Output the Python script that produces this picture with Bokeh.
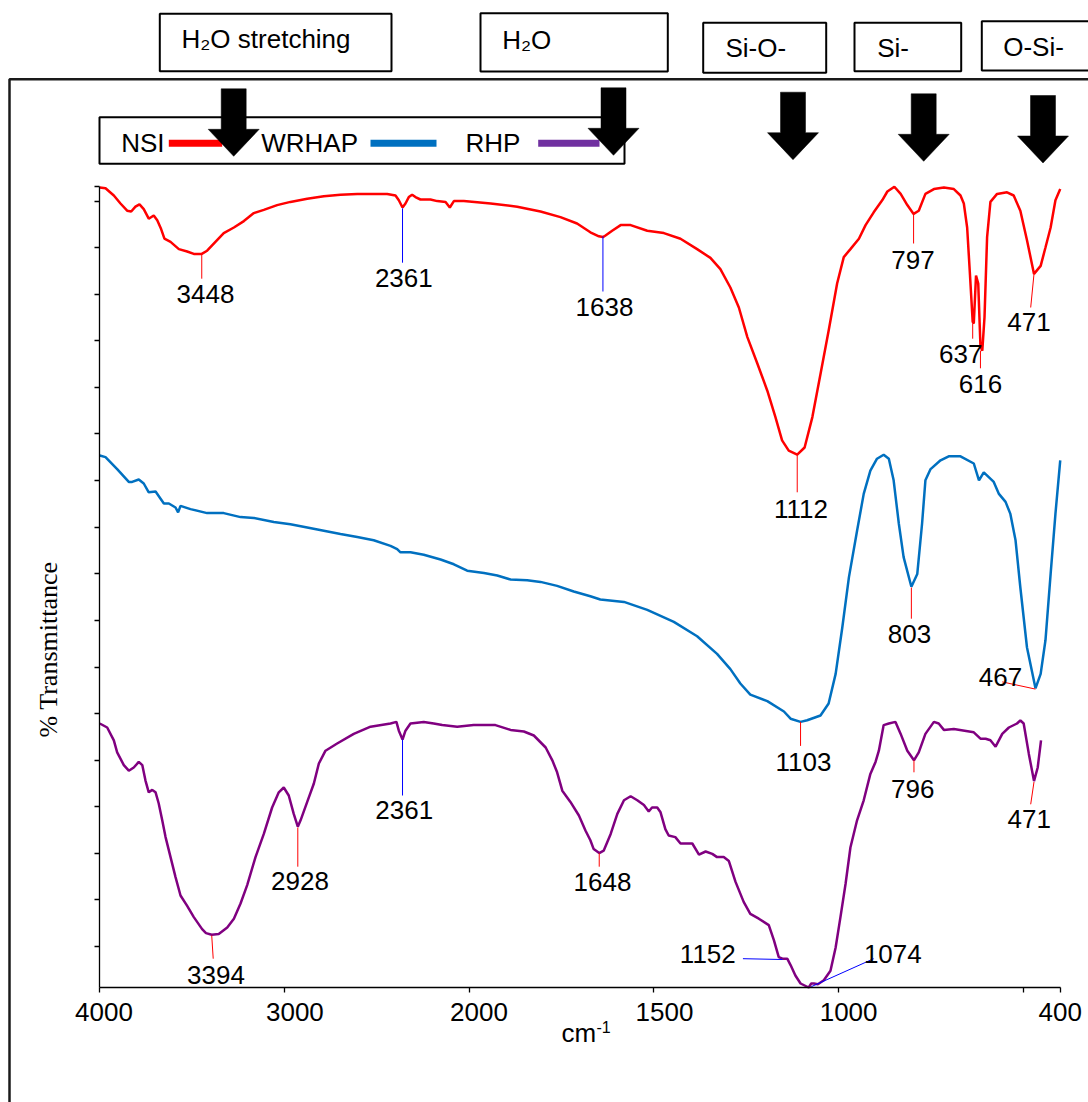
import numpy as np
from bokeh.plotting import figure
from bokeh.models import Range1d, LinearAxis, FixedTicker, CustomJSTickFormatter
from bokeh.core.properties import value
from bokeh.embed import file_html
from bokeh.resources import INLINE

# ---------------- data (wavenumber cm-1, %T arbitrary offset units) ----------------
NSI_WN = [4000, 3969, 3924, 3888, 3852, 3830, 3807, 3785, 3762, 3735,
          3708, 3689, 3668, 3650, 3617, 3572, 3527, 3491, 3448, 3419,
          3374, 3329, 3274, 3220, 3166, 3112, 3040, 2968, 2877, 2787,
          2697, 2606, 2517, 2444, 2399, 2381, 2361, 2345, 2327, 2309,
          2291, 2264, 2210, 2173, 2128, 2105, 2083, 2029, 1942, 1870,
          1807, 1753, 1708, 1672, 1649, 1638, 1631, 1613, 1590, 1563,
          1518, 1473, 1428, 1383, 1347, 1320, 1293, 1270, 1247, 1220,
          1193, 1171, 1153, 1135, 1112, 1092, 1071, 1049, 1027, 1004,
          986, 968, 945, 927, 905, 882, 868, 849, 832, 814,
          797, 783, 765, 742, 715, 688, 670, 661, 652, 645,
          637, 634, 628, 622, 616, 611, 605, 598, 589, 571,
          544, 526, 508, 490, 471, 453, 440, 426, 413, 400]
NSI_T = [100.0, 99.9, 99.0, 98.0, 97.1, 97.0, 97.6, 97.9, 97.3, 96.1,
         96.5, 95.9, 94.8, 93.6, 93.2, 92.3, 92.0, 91.7, 91.7, 92.1,
         93.2, 94.3, 95.0, 95.8, 96.8, 97.2, 97.8, 98.2, 98.6, 98.9,
         99.1, 99.2, 99.2, 99.2, 99.0, 98.4, 97.5, 98.0, 98.8, 99.1,
         98.8, 98.5, 98.5, 98.3, 98.2, 97.5, 98.3, 98.3, 98.0, 97.6,
         97.0, 96.3, 95.5, 94.4, 93.9, 93.8, 94.0, 94.6, 95.3, 95.3,
         94.6, 94.3, 93.6, 92.3, 91.2, 89.8, 87.5, 85.0, 81.3, 78.0,
         74.6, 71.3, 68.4, 67.1, 66.6, 67.5, 71.3, 76.7, 82.1, 88.0,
         91.3, 92.3, 93.6, 95.3, 96.9, 98.4, 99.5, 100.1, 99.2, 97.8,
         96.7, 97.1, 99.2, 99.8, 100.0, 99.8, 99.0, 98.0, 95.0, 89.6,
         83.2, 83.0, 89.0, 88.0, 80.2, 79.6, 83.8, 93.8, 98.2, 99.2,
         99.4, 99.0, 97.1, 93.4, 89.2, 90.2, 92.5, 95.0, 98.4, 99.8]

WRHAP_WN = [4000, 3969, 3906, 3843, 3825, 3789, 3762, 3735, 3698, 3671,
            3653, 3626, 3590, 3576, 3563, 3509, 3419, 3329, 3238, 3166,
            3058, 2968, 2877, 2787, 2697, 2606, 2517, 2426, 2390, 2372,
            2318, 2246, 2155, 2083, 2011, 1960, 1924, 1888, 1843, 1807,
            1762, 1717, 1672, 1645, 1581, 1518, 1446, 1383, 1329, 1293,
            1266, 1239, 1193, 1148, 1130, 1103, 1085, 1049, 1027, 1008,
            990, 972, 950, 932, 914, 896, 878, 864, 851, 837,
            824, 803, 787, 774, 765, 751, 724, 702, 670, 634,
            620, 607, 580, 566, 548, 535, 521, 508, 490, 467,
            453, 440, 426, 413, 400]
WRHAP_T = [66.5, 66.3, 64.8, 63.2, 63.2, 63.5, 63.0, 61.9, 62.0, 61.1,
           60.5, 60.5, 60.0, 59.4, 60.2, 59.8, 59.3, 59.3, 58.8, 58.7,
           58.2, 57.9, 57.5, 57.1, 56.7, 56.3, 55.9, 55.2, 54.8, 54.4,
           54.4, 54.1, 53.5, 52.9, 52.1, 51.8, 51.5, 51.0, 50.9, 50.7,
           50.2, 49.5, 48.9, 48.5, 48.2, 47.2, 45.7, 43.9, 41.7, 39.8,
           38.0, 36.6, 35.8, 34.5, 33.6, 33.2, 33.4, 34.0, 35.5, 39.2,
           45.0, 51.3, 57.1, 61.7, 64.6, 66.1, 66.6, 66.1, 63.4, 58.0,
           53.8, 50.1, 51.7, 58.0, 63.4, 64.8, 65.9, 66.4, 66.4, 65.5,
           63.4, 64.4, 63.2, 61.7, 60.7, 59.2, 55.9, 50.0, 42.5, 37.4,
           39.2, 43.4, 51.7, 59.2, 65.9]

RHP_WN = [4000, 3960, 3924, 3906, 3870, 3843, 3816, 3789, 3770, 3753,
          3735, 3716, 3698, 3681, 3662, 3644, 3617, 3590, 3563, 3527,
          3491, 3446, 3425, 3394, 3356, 3310, 3274, 3238, 3202, 3157,
          3112, 3067, 3031, 3004, 2977, 2950, 2928, 2913, 2877, 2841,
          2814, 2778, 2715, 2625, 2534, 2426, 2394, 2381, 2361, 2345,
          2318, 2246, 2192, 2146, 2065, 1988, 1929, 1888, 1852, 1825,
          1793, 1775, 1762, 1748, 1726, 1703, 1685, 1672, 1663, 1648,
          1636, 1617, 1599, 1581, 1563, 1545, 1527, 1514, 1505, 1491,
          1482, 1469, 1460, 1442, 1428, 1414, 1396, 1378, 1360, 1342,
          1329, 1311, 1297, 1279, 1257, 1239, 1216, 1189, 1175, 1162,
          1152, 1139, 1130, 1117, 1103, 1081, 1074, 1067, 1056, 1040,
          1022, 1008, 995, 981, 968, 950, 932, 914, 900, 891,
          878, 864, 846, 832, 814, 796, 783, 765, 742, 729,
          715, 688, 634, 616, 602, 589, 575, 557, 539, 517,
          508, 499, 485, 471, 461, 452]
RHP_T = [33.0, 32.5, 30.9, 29.4, 27.8, 27.1, 27.5, 28.2, 27.8, 25.9,
         24.4, 24.7, 24.4, 23.0, 20.9, 18.8, 16.3, 13.8, 11.5, 10.2,
         8.8, 7.3, 6.8, 6.6, 6.7, 7.5, 8.6, 10.5, 12.8, 16.3,
         19.2, 22.5, 24.4, 25.0, 24.0, 21.7, 20.1, 20.9, 23.2, 25.5,
         28.0, 29.6, 30.5, 31.7, 32.6, 33.0, 33.2, 32.1, 31.0, 32.1,
         33.0, 33.2, 33.0, 32.8, 32.6, 32.8, 32.8, 32.2, 32.0, 31.5,
         30.0, 28.4, 26.9, 24.6, 23.2, 21.5, 19.6, 18.4, 17.3, 16.8,
         17.1, 19.2, 21.7, 23.4, 23.9, 23.4, 22.8, 22.0, 22.5, 22.5,
         21.9, 19.8, 19.0, 18.8, 18.0, 18.0, 18.0, 16.6, 17.0, 16.7,
         16.3, 16.3, 15.8, 13.2, 10.7, 9.2, 8.6, 7.8, 5.9, 3.8,
         3.6, 3.6, 2.8, 1.5, 0.5, 0.0, 0.5, 0.5, 0.4, 0.9,
         2.1, 5.0, 8.8, 13.0, 17.5, 20.9, 23.4, 26.7, 28.2, 29.6,
         32.8, 33.0, 33.2, 31.7, 29.6, 28.4, 29.4, 31.7, 33.2, 33.0,
         32.2, 32.3, 31.9, 31.1, 31.1, 30.9, 30.1, 31.7, 32.5, 33.0,
         33.4, 33.0, 29.2, 25.8, 27.5, 30.9]

SERIES = ["NSI", "WRHAP", "RHP"]

# marked peaks (wavenumber) and the %T at the top / bottom of each leader line
PEAK_WN = [3448, 2361, 1638, 1112, 797, 637, 616, 471,
           1103, 803, 467,
           3394, 2928, 2361, 1648, 1152, 1074, 796, 471]
PEAK_T0 = [91.7, 97.4, 93.9, 66.8, 96.7, 83.0, 79.6, 89.2,
           33.2, 50.0, 37.3,
           6.5, 20.0, 31.0, 16.8, 3.5, 0.1, 28.4, 25.7]
LEAD_WN1 = [3448, 2361, 1638, 1112, 797, 637, 616, 480,
            1103, 803, 557,
            3386, 2928, 2361, 1648, 1259, 905, 796, 480]
LEAD_T1 = [88.6, 90.6, 87.0, 61.9, 93.0, 81.1, 77.4, 85.0,
           30.2, 46.1, 38.2,
           3.6, 15.1, 24.0, 15.1, 3.6, 3.6, 26.9, 22.9]
LEAD_COLOR = ["#FF0000", "#0000FF", "#0000FF", "#FF0000", "#FF0000", "#FF0000", "#FF0000", "#FF0000",
              "#FF0000", "#FF0000", "#FF0000",
              "#FF0000", "#FF0000", "#0000FF", "#FF0000", "#0000FF", "#0000FF", "#FF0000", "#FF0000"]

X_TICK_WN = [4000, 3000, 2000, 1500, 1000, 500, 400]
X_LABEL_WN = [4000, 3000, 2000, 1500, 1000, 400]
X_LABELS = ["4000", "3000", "2000", "1500", "1000", "400"]

BOX_TEXTS = ["H\u2082O stretching", "H\u2082O", "Si-O-", "Si-", "O-Si-"]

# ---------------- axis mapping: scale changes at 2000 cm-1 ----------------
AX_WN = [4000, 2000, 400]
AX_POS = [0.0, 2.0, 5.2]


def pos(wn):
    return np.interp(-np.asarray(wn, dtype=float), [-w for w in AX_WN], AX_POS)


# layout helpers (page pixel -> data units) for decorations only
PX0, PXU = 99.3, 184.7
PY0, PYU = 987.0, 8.0
TB = 10.5  # baseline correction for 26px text


def X(px):
    return (np.asarray(px, dtype=float) - PX0) / PXU


def Y(py):
    return (PY0 - np.asarray(py, dtype=float)) / PYU


def YT(py, shift=TB):
    return Y(np.asarray(py, dtype=float) - shift)


W, H = 1088, 1102
p = figure(width=W, height=H, output_backend="svg", toolbar_location=None, title=None,
           x_range=Range1d(float(X(0)), float(X(W))),
           y_range=Range1d(float(Y(H)), float(Y(0))),
           x_axis_type=None, y_axis_type=None, min_border=0,
           outline_line_color=None, background_fill_color="white",
           border_fill_color="white")

FONT = value("Liberation Sans")
FS = "26px"

# outer frame (top and left edges)
p.multi_line(xs=[[float(X(9)), float(X(9)), float(X(1100))]],
             ys=[[float(Y(1110)), float(Y(78.7)), float(Y(78.7))]],
             line_color="#1a1a1a", line_width=2.5)

# header boxes
bx0 = [159.3, 480.0, 702.7, 854.0, 981.3]
bx1 = [391.0, 667.3, 825.7, 960.7, 1100.0]
by0 = [13.3, 12.7, 22.3, 22.3, 20.7]
by1 = [70.7, 71.0, 72.3, 70.7, 70.0]
p.quad(left=X(bx0), right=X(bx1), top=Y(by0), bottom=Y(by1),
       fill_color="white", line_color="black", line_width=2)
p.text(x=X([181, 501.7, 725, 876.7, 1002.7]), y=YT([49.3, 50, 58.3, 58.3, 57.3]),
       text=BOX_TEXTS, text_align="left", text_baseline="alphabetic",
       text_font=FONT, text_font_size=FS, text_color="black")

# legend box
p.quad(left=[float(X(99))], right=[float(X(624))], top=[float(Y(116.7))], bottom=[float(Y(163.3))],
       fill_color="white", line_color="black", line_width=2)
COLORS = ["#FF0000", "#0070C0", "#800080"]
LEG_COLORS = ["#FF0000", "#0070C0", "#7030A0"]
p.segment(x0=X([168.3, 370, 537.7]), y0=Y([142.7] * 3), x1=X([221.7, 436, 599]), y1=Y([142.7] * 3),
          line_color=LEG_COLORS, line_width=7)
p.text(x=X([120.7, 260.7, 465]), y=YT([153.3] * 3), text=SERIES,
       text_align="left", text_baseline="alphabetic",
       text_font=FONT, text_font_size=FS, text_color="black")

# spectra
for wn, t, c in [(NSI_WN, NSI_T, COLORS[0]), (WRHAP_WN, WRHAP_T, COLORS[1]), (RHP_WN, RHP_T, COLORS[2])]:
    p.line(pos(wn), t, line_color=c, line_width=2.5)

# peak leader lines and labels
p.segment(x0=pos(PEAK_WN), y0=PEAK_T0, x1=pos(LEAD_WN1), y1=LEAD_T1,
          line_color=LEAD_COLOR, line_width=1)
LAB_PX = [205, 403.3, 604, 800.5, 912.5, 960.3, 980, 1028.5,
          803, 909, 1000,
          215.5, 299.5, 403.7, 602, 707.3, 892.3, 912.3, 1028.8]
LAB_PY = [304, 288.3, 316.7, 519, 270, 364, 394, 332.3,
          771.7, 644, 687.3,
          985, 890.7, 820, 891.7, 964, 964, 799, 829]
p.text(x=X(LAB_PX), y=YT(LAB_PY), text=[str(w) for w in PEAK_WN],
       text_align="center", text_baseline="alphabetic",
       text_font=FONT, text_font_size=FS, text_color="black")

# block arrows
ACX = [233.2, 613.0, 792.5, 923.2, 1042.5]
ATOP = [88.3, 87.3, 91.7, 93.3, 95.0]
xs, ys = [], []
for cx, top in zip(ACX, ATOP):
    sw, hw, sl, hh = 12.5, 25.5, 40.5, 27.0
    px_ = [cx - sw, cx + sw, cx + sw, cx + hw, cx, cx - hw, cx - sw]
    py_ = [top, top, top + sl, top + sl, top + sl + hh, top + sl, top + sl]
    xs.append(list(X(px_)))
    ys.append(list(Y(py_)))
p.patches(xs, ys, fill_color="black", line_color="black", line_width=0.5)

# axes
label_pos = list(pos(X_LABEL_WN) + np.array([4.2, 10.4, 9.8, 10.6, 10.0, 0.0]) / PXU)
xaxis = LinearAxis(fixed_location=0.0, bounds=(0.0, 5.2),
                   ticker=FixedTicker(ticks=label_pos, minor_ticks=list(pos(X_TICK_WN))),
                   formatter=CustomJSTickFormatter(args=dict(labels=X_LABELS), code="return labels[index];"),
                   major_tick_in=0, major_tick_out=0, minor_tick_in=0, minor_tick_out=5,
                   axis_line_color="black", axis_line_width=1.3,
                   minor_tick_line_color="black", minor_tick_line_width=1.3,
                   major_label_text_font="Liberation Sans", major_label_text_font_size=FS,
                   major_label_text_color="black", major_label_standoff=10)
p.add_layout(xaxis, "below")

Y_TICKS = [100.12, 98.31, 92.49, 86.66, 80.84, 75.01, 69.19, 63.36, 57.54, 51.71,
           45.89, 40.06, 34.24, 28.41, 22.59, 16.76, 10.94, 5.11]
yaxis = LinearAxis(fixed_location=0.0, bounds=(0.0, 100.125),
                   ticker=FixedTicker(ticks=Y_TICKS, minor_ticks=[]),
                   formatter=CustomJSTickFormatter(code="return '';"),
                   major_tick_in=0, major_tick_out=5, minor_tick_in=0, minor_tick_out=0,
                   axis_line_color="black", axis_line_width=1.3,
                   major_tick_line_color="black", major_tick_line_width=1.3)
p.add_layout(yaxis, "left")

# axis titles
p.text(x=[float(X(561))], y=[float(YT(1043))], text=["cm"], text_align="left", text_baseline="alphabetic",
       text_font=FONT, text_font_size=FS, text_color="black")
p.text(x=[float(X(596))], y=[float(YT(1033, 6.5))], text=["-1"], text_align="left", text_baseline="alphabetic",
       text_font=FONT, text_font_size="16px", text_color="black")
p.text(x=[float(X(58.3 - TB))], y=[float(Y(649))], text=["% Transmittance"], angle=np.pi / 2,
       text_align="center", text_baseline="alphabetic",
       text_font=value("Liberation Serif"), text_font_size=FS, text_color="black")

open("out.html", "w").write(file_html(p, INLINE))
